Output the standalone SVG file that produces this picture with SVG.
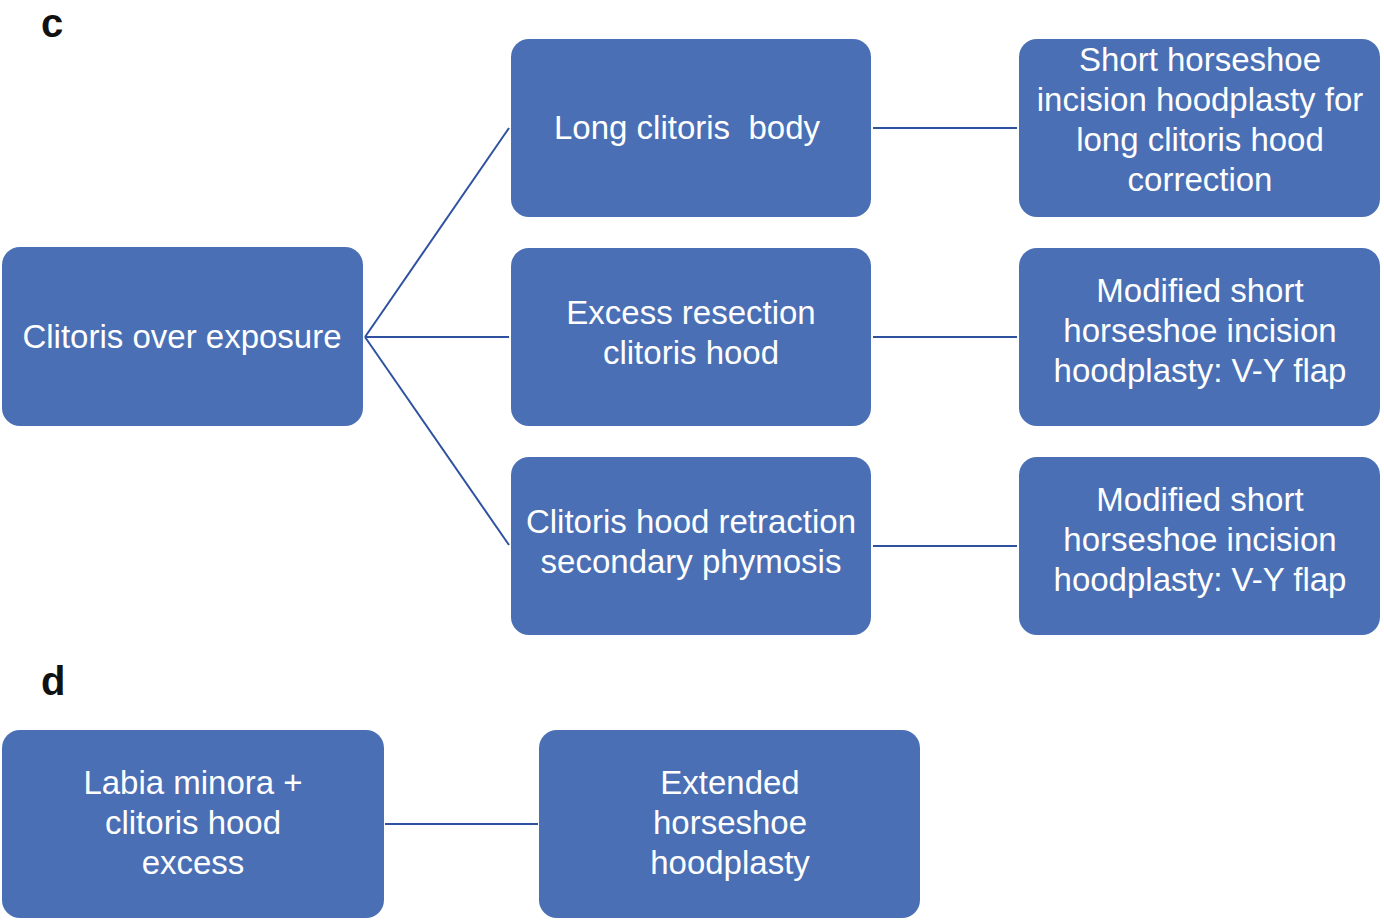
<svg xmlns="http://www.w3.org/2000/svg" width="1384" height="921" viewBox="0 0 1384 921">
<style>
.box{fill:#4a6fb5;}
.t{font-family:"Liberation Sans",Arial,sans-serif;font-size:33px;fill:#ffffff;text-anchor:middle;white-space:pre;}
.lbl{font-family:"Liberation Sans",Arial,sans-serif;font-size:40px;font-weight:bold;fill:#111111;}
.c{stroke:#2f52a0;stroke-width:2;fill:none;}
</style>
<rect width="1384" height="921" fill="#ffffff"/>
<text class="lbl" x="41" y="37">c</text>
<text class="lbl" x="41" y="695">d</text>
<g id="connectors">
<line class="c" x1="365" y1="337" x2="509" y2="128"/>
<line class="c" x1="365" y1="337" x2="509" y2="337"/>
<line class="c" x1="365" y1="337" x2="509" y2="545"/>
<line class="c" x1="873" y1="128" x2="1017" y2="128"/>
<line class="c" x1="873" y1="337" x2="1017" y2="337"/>
<line class="c" x1="873" y1="546" x2="1017" y2="546"/>
<line class="c" x1="385" y1="824" x2="538" y2="824"/>
</g>
<g id="n-exposure">
<rect class="box" x="2" y="247" width="361" height="179" rx="18"/>
<text class="t" x="182" y="348">Clitoris over exposure</text>
</g>
<g id="n-long">
<rect class="box" x="511" y="39" width="360" height="178" rx="18"/>
<text class="t" x="687" y="139" xml:space="preserve">Long clitoris  body</text>
</g>
<g id="n-excess">
<rect class="box" x="511" y="248" width="360" height="178" rx="18"/>
<text class="t" x="691" y="324">Excess resection</text>
<text class="t" x="691" y="364">clitoris hood</text>
</g>
<g id="n-retraction">
<rect class="box" x="511" y="457" width="360" height="178" rx="18"/>
<text class="t" x="691" y="533">Clitoris hood retraction</text>
<text class="t" x="691" y="573">secondary phymosis</text>
</g>
<g id="n-short">
<rect class="box" x="1019" y="39" width="361" height="178" rx="18"/>
<text class="t" x="1200" y="71">Short horseshoe</text>
<text class="t" x="1200" y="111">incision hoodplasty for</text>
<text class="t" x="1200" y="151">long clitoris hood</text>
<text class="t" x="1200" y="191">correction</text>
</g>
<g id="n-modified1">
<rect class="box" x="1019" y="248" width="361" height="178" rx="18"/>
<text class="t" x="1200" y="302">Modified short</text>
<text class="t" x="1200" y="342">horseshoe incision</text>
<text class="t" x="1200" y="382">hoodplasty: V-Y flap</text>
</g>
<g id="n-modified2">
<rect class="box" x="1019" y="457" width="361" height="178" rx="18"/>
<text class="t" x="1200" y="511">Modified short</text>
<text class="t" x="1200" y="551">horseshoe incision</text>
<text class="t" x="1200" y="591">hoodplasty: V-Y flap</text>
</g>
<g id="n-labia">
<rect class="box" x="2" y="730" width="382" height="188" rx="18"/>
<text class="t" x="193" y="794">Labia minora +</text>
<text class="t" x="193" y="834">clitoris hood</text>
<text class="t" x="193" y="874">excess</text>
</g>
<g id="n-extended">
<rect class="box" x="539" y="730" width="381" height="188" rx="18"/>
<text class="t" x="730" y="794">Extended</text>
<text class="t" x="730" y="834">horseshoe</text>
<text class="t" x="730" y="874">hoodplasty</text>
</g>
</svg>
